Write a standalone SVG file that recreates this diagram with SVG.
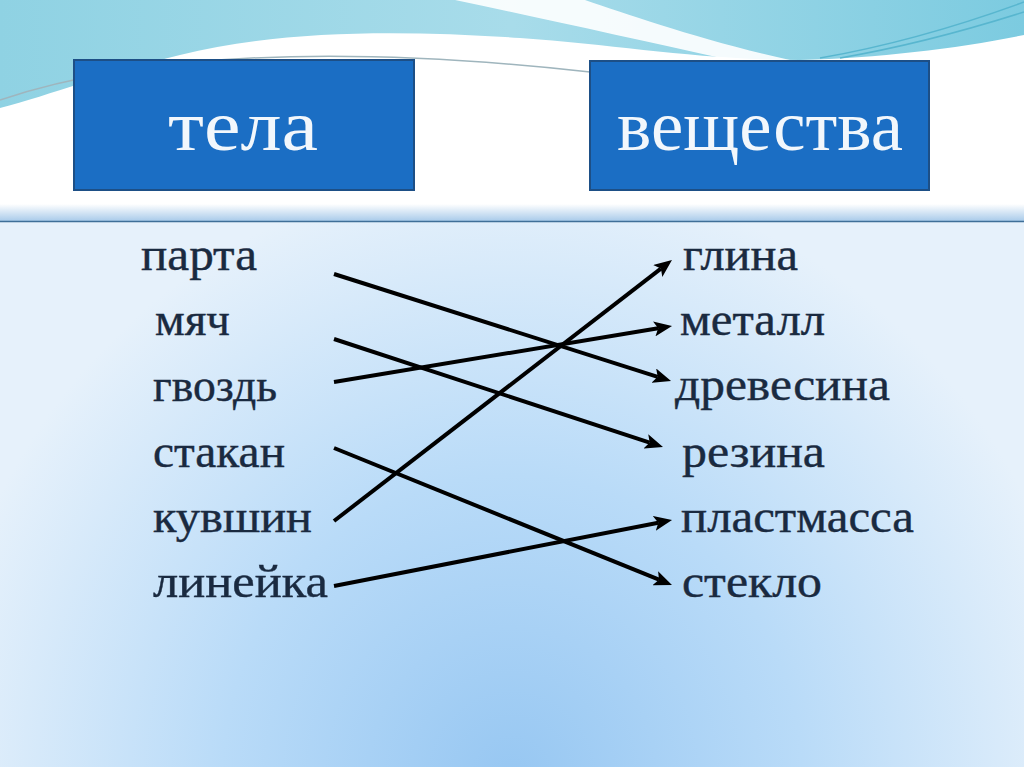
<svg xmlns="http://www.w3.org/2000/svg" width="1024" height="767" viewBox="0 0 1024 767">
  <defs>
    <linearGradient id="topgrad" x1="0" y1="0" x2="1" y2="0">
      <stop offset="0" stop-color="#8fd2e3"/>
      <stop offset="0.5" stop-color="#a8dcea"/>
      <stop offset="1" stop-color="#7ccbe0"/>
    </linearGradient>
    <radialGradient id="bg" gradientUnits="userSpaceOnUse" cx="512" cy="780" r="580" gradientTransform="translate(512 780) scale(1 1.05) translate(-512 -780)">
      <stop offset="0" stop-color="#97c7f2"/>
      <stop offset="0.5" stop-color="#b9dbf8"/>
      <stop offset="1" stop-color="#e6f1fb"/>
    </radialGradient>
    <linearGradient id="band" x1="0" y1="0" x2="0" y2="1">
      <stop offset="0" stop-color="#ffffff"/>
      <stop offset="1" stop-color="#a9cbea"/>
    </linearGradient>
    <marker id="arrow" markerUnits="userSpaceOnUse" markerWidth="18" markerHeight="15" viewBox="0 0 18 15" refX="4" refY="7.5" orient="auto">
      <path d="M0,0 L18,7.5 L0,15 L4,7.5 Z" fill="#000"/>
    </marker>
    <style>
      .hdr { fill: #1b6ec4; stroke: #1d4f86; stroke-width: 2; }
      .hdrtxt { font-family: "Liberation Serif", "DejaVu Serif", serif; font-size: 72px; fill: #f2f7fc; }
      .item { font-family: "Liberation Serif", "DejaVu Serif", serif; font-size: 46px; fill: #1a2a40; stroke: #1a2a40; stroke-width: 0.4; }
      .conn { stroke: #000; stroke-width: 4; fill: none; marker-end: url(#arrow); }
    </style>
  </defs>

  <!-- background -->
  <rect x="0" y="0" width="1024" height="767" fill="#ffffff"/>
  <rect x="0" y="222" width="1024" height="545" fill="url(#bg)"/>
  <path d="M0,0 H1024 V35 C960,48 880,58 800,60 C700,60 620,45 520,38 C400,30 280,30 180,55 C110,72 50,95 0,108 Z" fill="url(#topgrad)"/>
  <path d="M455,0 C540,18 630,38 730,60 L790,60 C700,40 630,15 585,0 Z" fill="#ffffff" opacity="0.9"/>
  <path d="M0,100 C120,60 300,40 590,72" stroke="#9fb5bd" stroke-width="1.5" fill="none"/>
  <path d="M820,58 C900,44 975,20 1024,2" stroke="#58b6cf" stroke-width="1.5" fill="none"/>
  <path d="M840,58 C910,46 980,26 1024,12" stroke="#58b6cf" stroke-width="1.5" fill="none"/>
  <rect x="0" y="204" width="1024" height="17" fill="url(#band)"/>
  <line x1="0" y1="221.5" x2="1024" y2="221.5" stroke="#3f6f98" stroke-width="1.5"/>

  <!-- header nodes -->
  <g id="node-tela">
    <rect class="hdr" x="74" y="60" width="340" height="130"/>
    <text class="hdrtxt" x="168" y="150" textLength="150" lengthAdjust="spacingAndGlyphs">тела</text>
  </g>
  <g id="node-veshchestva">
    <rect class="hdr" x="590" y="61" width="339" height="129"/>
    <text class="hdrtxt" x="617" y="150" textLength="286" lengthAdjust="spacingAndGlyphs">вещества</text>
  </g>

  <!-- left items -->
  <g id="node-parta"><text class="item" x="141" y="270" textLength="116" lengthAdjust="spacingAndGlyphs">парта</text></g>
  <g id="node-myach"><text class="item" x="155" y="335" textLength="75" lengthAdjust="spacingAndGlyphs">мяч</text></g>
  <g id="node-gvozd"><text class="item" x="153" y="401" textLength="124" lengthAdjust="spacingAndGlyphs">гвоздь</text></g>
  <g id="node-stakan"><text class="item" x="153" y="467" textLength="132" lengthAdjust="spacingAndGlyphs">стакан</text></g>
  <g id="node-kuvshin"><text class="item" x="153" y="532" textLength="159" lengthAdjust="spacingAndGlyphs">кувшин</text></g>
  <g id="node-lineyka"><text class="item" x="153" y="597" textLength="175" lengthAdjust="spacingAndGlyphs">линейка</text></g>

  <!-- right items -->
  <g id="node-glina"><text class="item" x="683" y="270" textLength="115" lengthAdjust="spacingAndGlyphs">глина</text></g>
  <g id="node-metall"><text class="item" x="680" y="335" textLength="145" lengthAdjust="spacingAndGlyphs">металл</text></g>
  <g id="node-drevesina"><text class="item" x="675" y="400" textLength="215" lengthAdjust="spacingAndGlyphs">древесина</text></g>
  <g id="node-rezina"><text class="item" x="682" y="467" textLength="143" lengthAdjust="spacingAndGlyphs">резина</text></g>
  <g id="node-plastmassa"><text class="item" x="681" y="532" textLength="233" lengthAdjust="spacingAndGlyphs">пластмасса</text></g>
  <g id="node-steklo"><text class="item" x="682" y="597" textLength="140" lengthAdjust="spacingAndGlyphs">стекло</text></g>

  <!-- connectors -->
  <g id="connectors">
    <line class="conn" x1="334" y1="274" x2="657.7" y2="376.8"/>
    <line class="conn" x1="334" y1="339" x2="649.7" y2="442.6"/>
    <line class="conn" x1="334" y1="382" x2="658.2" y2="328.3"/>
    <line class="conn" x1="334" y1="448" x2="659.0" y2="579.7"/>
    <line class="conn" x1="334" y1="521" x2="660.9" y2="268.6"/>
    <line class="conn" x1="334" y1="586" x2="658.3" y2="522.7"/>
  </g>
</svg>
